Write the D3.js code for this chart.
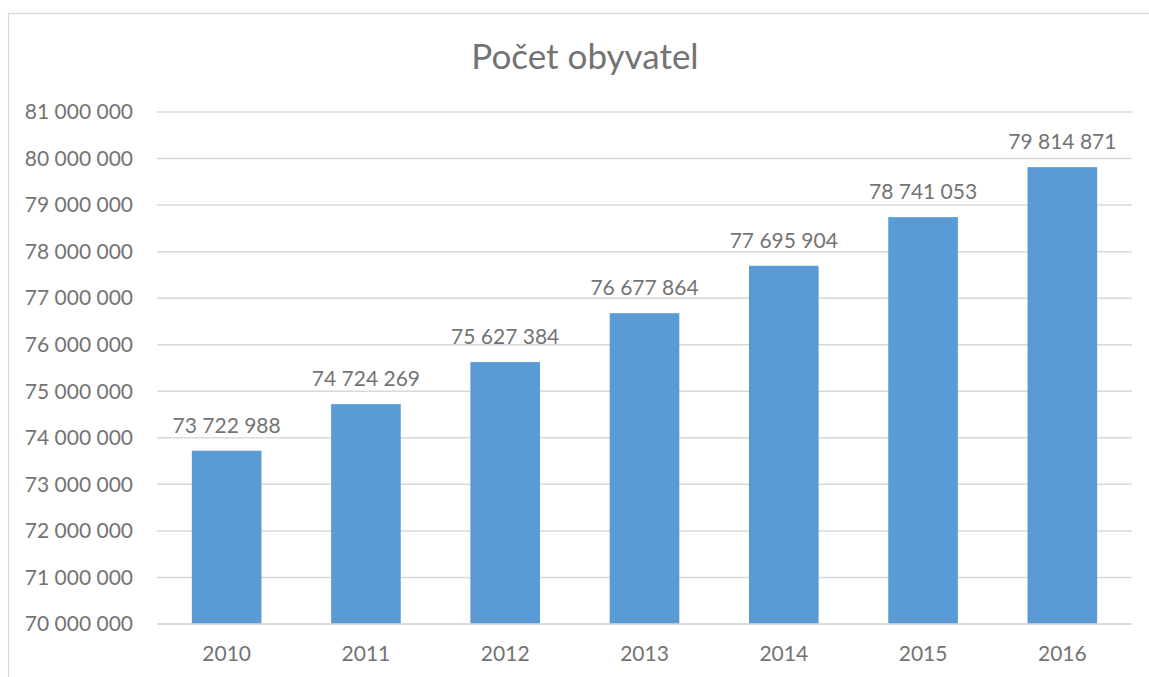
<!DOCTYPE html>
<html>
<head>
<meta charset="utf-8">
<script src="https://cdn.jsdelivr.net/npm/d3@7"></script>
<style>
  html, body { margin: 0; padding: 0; background: #fff; }
  svg { display: block; }
</style>
</head>
<body>
<svg id="chart" width="1149" height="677"></svg>
<script>
const title = "Počet obyvatel";
const years = ["2010", "2011", "2012", "2013", "2014", "2015", "2016"];
const population = [73722988, 74724269, 75627384, 76677864, 77695904, 78741053, 79814871];
const yTicks = [70000000, 71000000, 72000000, 73000000, 74000000, 75000000, 76000000, 77000000, 78000000, 79000000, 80000000, 81000000];

const svg = d3.select("#chart");
const W = 1149, H = 677;
const margin = { left: 157, right: 17, top: 112, bottom: 53 };
const textColor = "#737373";
const gridColor = "#d9d9d9";
const barColor = "#5b9bd5";
const font = "Lato, 'Open Sans', sans-serif";

// chart border
svg.append("rect")
  .attr("x", 8.5).attr("y", 13.5)
  .attr("width", 1160).attr("height", 700)
  .attr("fill", "#fff").attr("stroke", "#d9d9d9").attr("stroke-width", 1.2);

const x = d3.scaleBand().domain(years)
  .range([margin.left, W - margin.right])
  .paddingInner(0.5).paddingOuter(0.25);
const y = d3.scaleLinear().domain([70000000, 81000000])
  .range([H - margin.bottom, margin.top]);

const fmt = v => d3.format(",")(v).replace(/,/g, " ");

// gridlines
svg.append("g").selectAll("line").data(yTicks).join("line")
  .attr("x1", margin.left).attr("x2", W - margin.right)
  .attr("y1", d => y(d)).attr("y2", d => y(d))
  .attr("stroke", gridColor).attr("stroke-width", 1.5);

// y axis labels
const yAxis = d3.axisLeft(y).tickValues(yTicks).tickFormat(fmt).tickSize(0).tickPadding(24);
const gy = svg.append("g").attr("transform", `translate(${margin.left},0)`).call(yAxis);
gy.select(".domain").remove();
gy.selectAll("text").attr("fill", textColor).style("font-family", font).style("font-size", "21px");

// bars
svg.append("g").selectAll("rect").data(population).join("rect")
  .attr("x", (d, i) => x(years[i]))
  .attr("width", x.bandwidth())
  .attr("y", d => y(d))
  .attr("height", d => y(70000000) - y(d))
  .attr("fill", barColor);

// value labels
svg.append("g").selectAll("text").data(population).join("text")
  .attr("x", (d, i) => x(years[i]) + x.bandwidth() / 2)
  .attr("y", d => y(d) - 18)
  .attr("text-anchor", "middle")
  .attr("fill", textColor)
  .style("font-family", font).style("font-size", "21px")
  .text(d => fmt(d));

// x axis
const xAxis = d3.axisBottom(x).tickSize(0).tickPadding(22);
const gx = svg.append("g").attr("transform", `translate(0,${H - margin.bottom})`).call(xAxis);
gx.select(".domain").attr("stroke", gridColor).attr("stroke-width", 1.5)
  .attr("d", `M${margin.left},0H${W - margin.right}`);
gx.selectAll("text").attr("fill", textColor).style("font-family", font).style("font-size", "21px");

// title
svg.append("text")
  .attr("x", 585).attr("y", 69)
  .attr("text-anchor", "middle")
  .attr("fill", textColor)
  .style("font-family", font).style("font-size", "35px")
  .text(title);
</script>
</body>
</html>
